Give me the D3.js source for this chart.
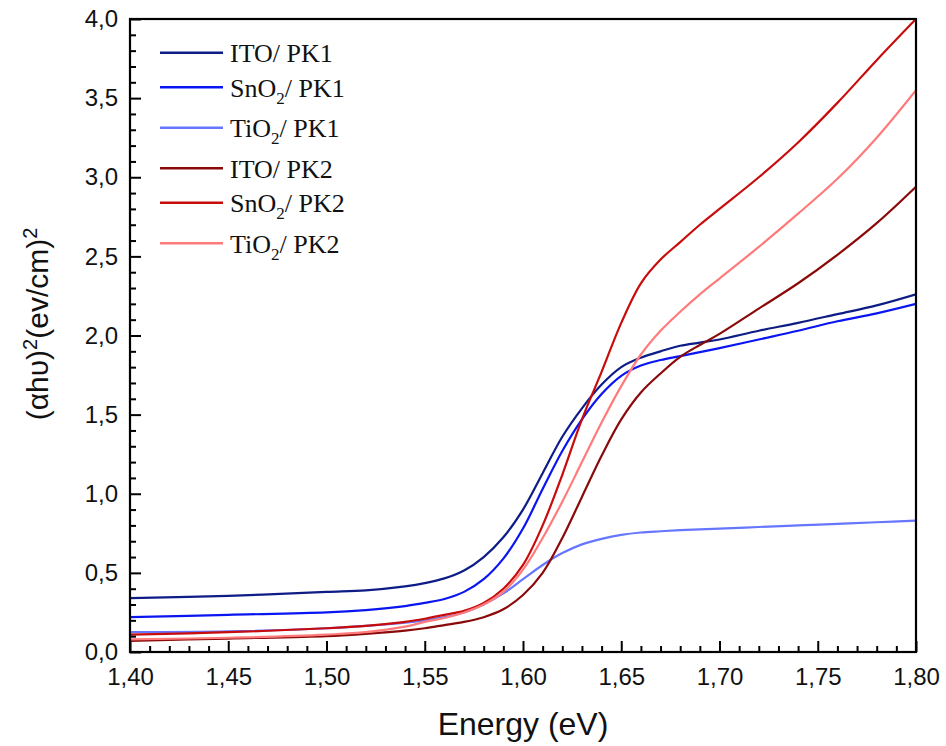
<!DOCTYPE html>
<html>
<head>
<meta charset="utf-8">
<script src="https://cdn.jsdelivr.net/npm/d3@7"></script>
<style>
  html, body { margin: 0; padding: 0; background: #fff; }
  svg { display: block; }
</style>
</head>
<body>
<svg id="chart" width="946" height="746"></svg>
<script>
// ---- data ----
const energy = [1.40,1.45,1.50,1.52,1.54,1.55,1.56,1.57,1.58,1.59,1.60,1.61,1.62,1.63,1.64,1.65,1.66,1.67,1.68,1.69,1.70,1.72,1.74,1.76,1.78,1.80];

const itoPK1  = [0.34,0.355,0.38,0.39,0.415,0.435,0.465,0.515,0.60,0.725,0.90,1.13,1.36,1.54,1.69,1.80,1.86,1.90,1.935,1.955,1.975,2.03,2.08,2.135,2.19,2.26];
const snoPK1  = [0.22,0.235,0.25,0.265,0.29,0.31,0.335,0.38,0.46,0.59,0.78,1.03,1.27,1.47,1.63,1.745,1.81,1.845,1.87,1.895,1.92,1.975,2.03,2.09,2.14,2.20];
const tioPK1  = [0.125,0.13,0.15,0.165,0.185,0.20,0.22,0.25,0.30,0.37,0.46,0.55,0.625,0.68,0.715,0.74,0.755,0.763,0.77,0.775,0.78,0.79,0.80,0.81,0.82,0.83];
const itoPK2  = [0.07,0.085,0.10,0.115,0.135,0.15,0.17,0.19,0.22,0.27,0.36,0.50,0.72,0.98,1.24,1.47,1.64,1.76,1.865,1.94,2.01,2.17,2.33,2.51,2.71,2.94];
const snoPK2  = [0.11,0.125,0.15,0.165,0.19,0.21,0.235,0.26,0.31,0.40,0.55,0.80,1.12,1.47,1.77,2.08,2.33,2.48,2.59,2.70,2.80,3.00,3.22,3.47,3.74,4.00];
const tioPK2  = [0.08,0.09,0.11,0.125,0.16,0.19,0.215,0.25,0.30,0.38,0.52,0.72,0.95,1.20,1.45,1.68,1.88,2.03,2.15,2.26,2.36,2.56,2.77,2.99,3.25,3.55];

const seriesNames = ["ITO", "SnO", "TiO", "ITO", "SnO", "TiO"];
const seriesSubs  = ["", "2", "2", "", "2", "2"];
const seriesSuffix = ["/ PK1", "/ PK1", "/ PK1", "/ PK2", "/ PK2", "/ PK2"];
const seriesValues = [itoPK1, snoPK1, tioPK1, itoPK2, snoPK2, tioPK2];
const seriesColors = ["#0e1c86", "#0a16f2", "#6676ff", "#8a0a0a", "#c80c0c", "#ff7b7b"];

const xMajorTicks = [1.40,1.45,1.50,1.55,1.60,1.65,1.70,1.75,1.80];
const yMajorTicks = [0,0.5,1.0,1.5,2.0,2.5,3.0,3.5,4.0];

// ---- layout ----
const L = 130, R = 916, T = 19, B = 652;
const svg = d3.select("#chart");

const x = d3.scaleLinear().domain([1.40, 1.80]).range([L, R]);
const y = d3.scaleLinear().domain([0, 4.0]).range([B, T]);

const xMinor = d3.range(141, 180).map(v => v / 100).filter(v => Math.round(v * 100) % 5 !== 0);
const yMinor = d3.range(1, 40).map(v => v / 10).filter(v => Math.round(v * 10) % 5 !== 0);

const fmtX = d => d.toFixed(2).replace(".", ",");
const fmtY = d => d.toFixed(1).replace(".", ",");

// clip
svg.append("defs").append("clipPath").attr("id", "clip")
  .append("rect").attr("x", L).attr("y", T).attr("width", R - L).attr("height", B - T);

// lines
const line = d3.line()
  .x((d, i) => x(energy[i]))
  .y(d => y(d))
  .curve(d3.curveCatmullRom.alpha(0.5));

const gLines = svg.append("g").attr("clip-path", "url(#clip)");
seriesValues.forEach((vals, k) => {
  gLines.append("path")
    .datum(vals)
    .attr("d", line)
    .attr("fill", "none")
    .attr("stroke", seriesColors[k])
    .attr("stroke-width", 2.2)
    .attr("stroke-linejoin", "round");
});

// axes
const axisFont = "'Liberation Sans', Arial, sans-serif";

const gx = svg.append("g").attr("transform", `translate(0,${B})`)
  .call(d3.axisBottom(x).tickValues(xMajorTicks).tickSize(-11).tickPadding(16).tickFormat(fmtX));
const gxm = svg.append("g").attr("transform", `translate(0,${B})`)
  .call(d3.axisBottom(x).tickValues(xMinor).tickSize(-6).tickFormat(""));
const gy = svg.append("g").attr("transform", `translate(${L},0)`)
  .call(d3.axisLeft(y).tickValues(yMajorTicks).tickSize(-11).tickPadding(12).tickFormat(fmtY));
const gym = svg.append("g").attr("transform", `translate(${L},0)`)
  .call(d3.axisLeft(y).tickValues(yMinor).tickSize(-6).tickFormat(""));

[gx, gxm, gy, gym].forEach(g => {
  g.select(".domain").remove();
  g.selectAll(".tick line").attr("stroke", "#000").attr("stroke-width", 2);
  g.selectAll(".tick text")
    .attr("font-family", axisFont)
    .attr("font-size", 24)
    .attr("fill", "#111");
});

// frame
svg.append("rect")
  .attr("x", L).attr("y", T).attr("width", R - L).attr("height", B - T)
  .attr("fill", "none").attr("stroke", "#000").attr("stroke-width", 2.2);

// axis titles
svg.append("text")
  .attr("x", (L + R) / 2).attr("y", 735)
  .attr("text-anchor", "middle")
  .attr("font-family", axisFont).attr("font-size", 32).attr("fill", "#111")
  .text("Energy (eV)");

const yt = svg.append("text")
  .attr("transform", "translate(48,324) rotate(-90)")
  .attr("text-anchor", "middle")
  .attr("font-family", axisFont).attr("font-size", 30).attr("fill", "#111");
yt.append("tspan").text("(αhυ)");
yt.append("tspan").attr("dy", -11).attr("font-size", 20).text("2");
yt.append("tspan").attr("dy", 11).text("(ev/cm)");
yt.append("tspan").attr("dy", -11).attr("font-size", 20).text("2");

// legend
const legendFont = "'Liberation Serif', 'Times New Roman', serif";
const legendY = [52.7, 87.3, 127.7, 168.3, 202.7, 243.3];
seriesValues.forEach((vals, k) => {
  const ly = legendY[k];
  svg.append("line")
    .attr("x1", 160).attr("x2", 223).attr("y1", ly).attr("y2", ly)
    .attr("stroke", seriesColors[k]).attr("stroke-width", 2.5);
  const t = svg.append("text")
    .attr("x", 230).attr("y", ly + 9.5)
    .attr("font-family", legendFont).attr("font-size", 26).attr("fill", "#111");
  t.append("tspan").text(seriesNames[k]);
  if (seriesSubs[k]) {
    t.append("tspan").attr("dy", 7).attr("font-size", 17).text(seriesSubs[k]);
    t.append("tspan").attr("dy", -7).text(seriesSuffix[k]);
  } else {
    t.append("tspan").text(seriesSuffix[k]);
  }
});
</script>
</body>
</html>
